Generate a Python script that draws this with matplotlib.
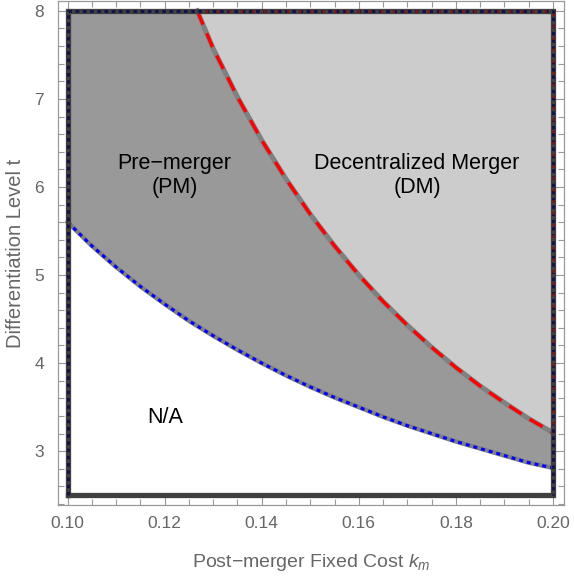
import matplotlib.pyplot as plt
from matplotlib.ticker import MultipleLocator

plt.rcParams["font.family"] = ["Liberation Sans", "DejaVu Sans"]
plt.rcParams["mathtext.fontset"] = "custom"
plt.rcParams["mathtext.rm"] = "Liberation Sans"
plt.rcParams["mathtext.it"] = "Liberation Sans:italic"

# boundary between N/A and PM
k_low = [0.100, 0.105, 0.110, 0.115, 0.120, 0.125, 0.130, 0.135, 0.140, 0.145, 0.150,
         0.155, 0.160, 0.165, 0.170, 0.175, 0.180, 0.185, 0.190, 0.195, 0.200]
t_low = [5.60, 5.33, 5.09, 4.87, 4.67, 4.48, 4.31, 4.15, 4.00, 3.86, 3.73,
         3.61, 3.50, 3.39, 3.29, 3.20, 3.11, 3.03, 2.95, 2.87, 2.81]

# boundary between PM and DM
k_up = [0.1267, 0.130, 0.135, 0.140, 0.145, 0.150, 0.155, 0.160, 0.165, 0.170,
        0.175, 0.180, 0.185, 0.190, 0.195, 0.200]
t_up = [8.00, 7.57, 7.02, 6.53, 6.09, 5.69, 5.33, 5.00, 4.70, 4.43,
        4.18, 3.95, 3.74, 3.55, 3.37, 3.21]

k_range = [0.10, 0.20]
t_range = [2.5, 8.0]

labels = ["Pre\u2212merger\n(PM)", "Decentralized Merger\n(DM)", "N/A"]
label_pos = [(0.122, 6.13), (0.172, 6.13), (0.12, 3.385)]

fig = plt.figure(figsize=(5.74, 5.79), dpi=100)
ax = fig.add_axes([0.101, 0.128, 0.8816, 0.870])

# regions
ax.fill_between(k_low, t_low, t_range[1], color="#999999", lw=0, zorder=1)
ax.fill_between(k_up, t_up, t_range[1], color="#cccccc", lw=0, zorder=2)

# boundaries
ax.plot(k_low, t_low, color="#808080", lw=3.2, zorder=3)
ax.plot(k_low, t_low, color="#0000ff", lw=2.2, linestyle=(0, (1.3, 1.3)), zorder=4)
ax.plot(k_up, t_up, color="#808080", lw=3.6, zorder=3)
ax.plot(k_up, t_up, color="#ff0000", lw=2.4, linestyle=(0, (4.5, 2.8)), zorder=4)

# frame of the domain
fx = [k_range[0], k_range[1], k_range[1], k_range[0], k_range[0]]
fy = [t_range[0], t_range[0], t_range[1], t_range[1], t_range[0]]
ax.plot(fx, fy, color="#404040", lw=3.8, solid_joinstyle="miter", zorder=5)
ax.plot([k_range[0], k_range[0], k_range[1], k_range[1]],
        [t_range[0], t_range[1], t_range[1], t_range[0]],
        color="#101050", lw=2.0, linestyle=(0, (1.3, 1.3)), zorder=6)
# the DM border also runs along the top and right edges
ax.plot([k_up[0], k_range[1], k_range[1]], [t_range[1], t_range[1], t_up[-1]],
        color="#801818", lw=2.0, linestyle=(1.3, (1.0, 3.2)), zorder=6)

for txt, (x, y) in zip(labels, label_pos):
    ax.text(x, y, txt, ha="center", va="center", fontsize=15.5, color="black",
            linespacing=1.2, zorder=7)

ax.set_xlim(0.098, 0.2023)
ax.set_ylim(2.39, 8.11)
ax.xaxis.set_major_locator(MultipleLocator(0.02))
ax.xaxis.set_minor_locator(MultipleLocator(0.005))
ax.yaxis.set_major_locator(MultipleLocator(1))
ax.yaxis.set_minor_locator(MultipleLocator(0.2))
ax.xaxis.set_major_formatter(plt.FormatStrFormatter("%.2f"))
ax.tick_params(which="both", direction="in", top=True, right=True,
               color="#999999", labelcolor="#666666", labelsize=12.5)
ax.tick_params(which="major", length=7, width=0.8)
ax.tick_params(which="minor", length=4, width=0.8)
ax.tick_params(axis="y", which="major", pad=10)
ax.tick_params(axis="x", which="major", pad=8)
for s in ax.spines.values():
    s.set_color("#999999")
    s.set_linewidth(0.9)

ax.set_xlabel("Post\u2212merger Fixed Cost $k_m$", fontsize=14, color="#666666", labelpad=15)
ax.set_ylabel("Differentiation Level t", fontsize=14.5, color="#666666", labelpad=7)

fig.savefig("out.png", dpi=100)
